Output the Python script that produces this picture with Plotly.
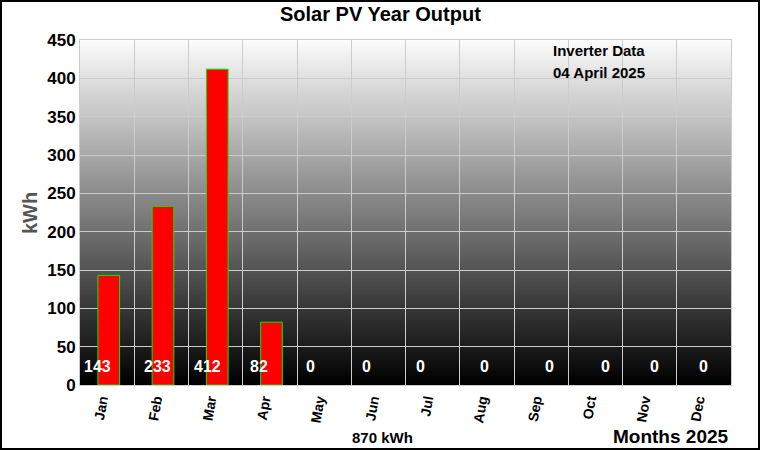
import base64
import struct
import zlib
import plotly.graph_objects as go

months = ["Jan", "Feb", "Mar", "Apr", "May", "Jun", "Jul", "Aug", "Sep", "Oct", "Nov", "Dec"]
output_kwh = [143, 233, 412, 82, 0, 0, 0, 0, 0, 0, 0, 0]
total_text = "870 kWh"
title_text = "Solar PV Year Output"
info_line1 = "Inverter Data"
info_line2 = "04 April 2025"
x_title = "Months 2025"
y_title = "kWh"

# style: label horizontal nudges (px)
label_shift = [-10, -4, -8, -11, -14, -12, -12, -2, 8, 10, 5, 0]

W, H = 760, 450
ML, MR, MT, MB = 80, 29, 40, 65
PW, PH = W - ML - MR, H - MT - MB
FONT = "Arial, Liberation Sans, sans-serif"


def gradient_png(n=256, top=252, bottom=0):
    rows = b""
    for i in range(n):
        g = int(round(top + (bottom - top) * i / (n - 1)))
        rows += b"\x00" + bytes([g])

    def chunk(tag, data):
        c = tag + data
        return struct.pack(">I", len(data)) + c + struct.pack(">I", zlib.crc32(c) & 0xFFFFFFFF)

    png = b"\x89PNG\r\n\x1a\n"
    png += chunk(b"IHDR", struct.pack(">IIBBBBB", 1, n, 8, 0, 0, 0, 0))
    png += chunk(b"IDAT", zlib.compress(rows))
    png += chunk(b"IEND", b"")
    return "data:image/png;base64," + base64.b64encode(png).decode()


def px2x(p):
    return (p - ML) / PW


def py2y(p):
    return 1 - (p - MT) / PH


fig = go.Figure()
fig.add_trace(go.Bar(
    x=months, y=output_kwh, width=0.4, offset=-0.17,
    marker=dict(color="#ff0000",
                line=dict(color="#00ee00", width=[1 if v > 0 else 0 for v in output_kwh])),
    hoverinfo="skip",
))

images = [dict(source=gradient_png(), xref="paper", yref="paper", x=0, y=1,
               sizex=1, sizey=1, sizing="stretch", xanchor="left", yanchor="top",
               layer="below")]

shapes = [dict(type="rect", xref="paper", yref="paper",
               x0=px2x(1), x1=px2x(759), y0=py2y(1), y1=py2y(449),
               line=dict(color="black", width=2), fillcolor="rgba(0,0,0,0)", layer="above")]

annotations = []
for m, v, s in zip(months, output_kwh, label_shift):
    annotations.append(dict(x=m, y=24, xref="x", yref="y", text=str(v), showarrow=False,
                            xshift=s, xanchor="center", yanchor="middle",
                            font=dict(family=FONT, size=16, color="white", weight="bold")))


def add_text(px, py, text, size, color="black", angle=0):
    annotations.append(dict(x=px2x(px), y=py2y(py), xref="paper", yref="paper", text=text,
                            showarrow=False, xanchor="center", yanchor="middle", textangle=angle,
                            font=dict(family=FONT, size=size, color=color, weight="bold")))


add_text(382, 437, total_text, 15)
add_text(671, 436, x_title, 19)
add_text(599, 50, info_line1, 15)
add_text(599, 72, info_line2, 15)
add_text(380, 14, title_text, 20)
add_text(30, 213, y_title, 20, color="#555555", angle=-90)

fig.update_layout(
    width=W, height=H,
    margin=dict(l=ML, r=MR, t=MT, b=MB),
    paper_bgcolor="white", plot_bgcolor="rgba(0,0,0,0)",
    showlegend=False,
    shapes=shapes, annotations=annotations, images=images,
    font=dict(family=FONT, color="black"),
)
fig.update_xaxes(
    type="category", showgrid=True, gridcolor="#cccccc", gridwidth=1, tickson="boundaries",
    showline=True, linecolor="#cccccc", linewidth=1, mirror=True,
    tickangle=-80, ticks="", ticklabelshift=-6, ticklabelstandoff=0,
    tickfont=dict(size=14, color="black", weight="bold"),
    range=[-0.5, 11.5],
)
fig.update_yaxes(
    range=[0, 450], dtick=50, showgrid=True, gridcolor="#cccccc", gridwidth=1,
    zeroline=False, showline=True, linecolor="#cccccc", mirror=True, ticks="",
    tickfont=dict(size=17, color="black", weight="bold"),
)
fig.write_html("out.html")
